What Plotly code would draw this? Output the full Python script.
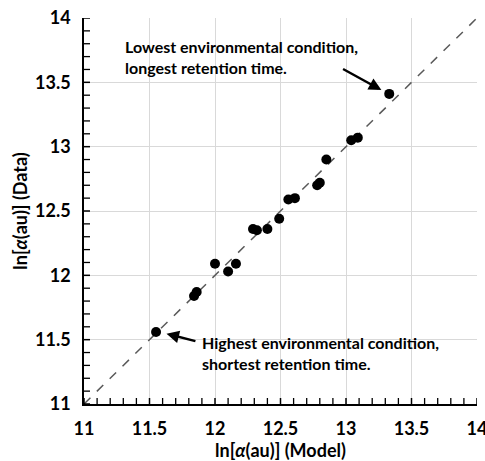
import numpy as np
import plotly.graph_objects as go

# Model vs. measured ln[alpha(au)]
model_ln = [11.55, 11.84, 11.86, 12.00, 12.10, 12.16, 12.29, 12.32, 12.40, 12.49,
            12.56, 12.61, 12.78, 12.80, 12.85, 13.04, 13.09, 13.33]
data_ln = [11.56, 11.84, 11.87, 12.09, 12.03, 12.09, 12.36, 12.35, 12.36, 12.44,
           12.59, 12.60, 12.70, 12.72, 12.90, 13.05, 13.07, 13.41]

# 1:1 reference line
identity_x = [11, 14]
identity_y = [11, 14]

axis_range = [11, 14]
major_step = 0.5
minor_step = 0.1

FONT = "Lato"
BLACK = "#000000"

fig = go.Figure()

fig.add_trace(go.Scatter(
    x=identity_x, y=identity_y, mode="lines",
    line=dict(color="#595959", width=1.5, dash="dash"),
    hoverinfo="skip", showlegend=False,
))

fig.add_trace(go.Scatter(
    x=model_ln, y=data_ln, mode="markers",
    marker=dict(color=BLACK, size=10),
    showlegend=False,
))

tick_font = dict(family=FONT, size=18, color=BLACK, weight="bold")
title_font = dict(family=FONT, size=18, color=BLACK, weight="bold")

common_axis = dict(
    range=axis_range, dtick=major_step, automargin=False,
    showgrid=True, gridcolor="#d9d9d9", gridwidth=1,
    zeroline=False, showline=True, linecolor=BLACK, linewidth=1.5,
    ticks="", tickfont=tick_font, ticklabelstandoff=8,
    ticklabeloverflow="allow",
)

fig.update_layout(
    width=485, height=461,
    margin=dict(l=83.5, r=7.5, t=18, b=56.7),
    paper_bgcolor="white", plot_bgcolor="white",
    xaxis=dict(**common_axis,
               title=dict(text="ln[<i>α</i>(au)] (Model)", standoff=4, font=title_font)),
    yaxis=dict(**common_axis,
               title=dict(text="ln[<i>α</i>(au)] (Data)", standoff=3, font=title_font)),
    showlegend=False,
)

# tick marks: major ticks cross the axis line, minor ticks point inward
major_vals = np.round(np.arange(axis_range[0], axis_range[1] + 1e-9, major_step), 6)
all_vals = np.round(np.arange(axis_range[0], axis_range[1] + 1e-9, minor_step), 6)
minor_vals = [v for v in all_vals if not np.isclose(v, major_vals).any()]

def add_tick(val, lo, hi, width):
    # bottom axis tick
    fig.add_shape(type="line", xref="x", yref="y", x0=val, x1=val,
                  ysizemode="pixel", yanchor=axis_range[0], y0=lo, y1=hi,
                  line=dict(color=BLACK, width=width), layer="above")
    # left axis tick
    fig.add_shape(type="line", xref="x", yref="y", y0=val, y1=val,
                  xsizemode="pixel", xanchor=axis_range[0], x0=lo, x1=hi,
                  line=dict(color=BLACK, width=width), layer="above")

for v in major_vals:
    add_tick(v, -5, 6, 1.5)
for v in minor_vals:
    add_tick(v, 0, 6, 1.3)

ann_font = dict(family=FONT, size=16, color=BLACK, weight="bold")

fig.add_annotation(
    x=11.30, y=13.695, xref="x", yref="y",
    text="Lowest environmental condition,<br>longest retention time.",
    showarrow=False, xanchor="left", yanchor="middle", align="left",
    font=ann_font,
)
fig.add_annotation(
    x=11.887, y=11.40, xref="x", yref="y",
    text="Highest environmental condition,<br>shortest retention time.",
    showarrow=False, xanchor="left", yanchor="middle", align="left",
    font=ann_font,
)

# arrows pointing to the extreme points
fig.add_annotation(
    x=13.27, y=13.44, ax=12.966, ay=13.61, xref="x", yref="y", axref="x", ayref="y",
    text="", showarrow=True, arrowhead=2, arrowsize=1, arrowwidth=2.5, arrowcolor=BLACK,
)
fig.add_annotation(
    x=11.63, y=11.546, ax=11.862, ay=11.486, xref="x", yref="y", axref="x", ayref="y",
    text="", showarrow=True, arrowhead=2, arrowsize=1, arrowwidth=2.5, arrowcolor=BLACK,
)

fig.write_html("out.html")
